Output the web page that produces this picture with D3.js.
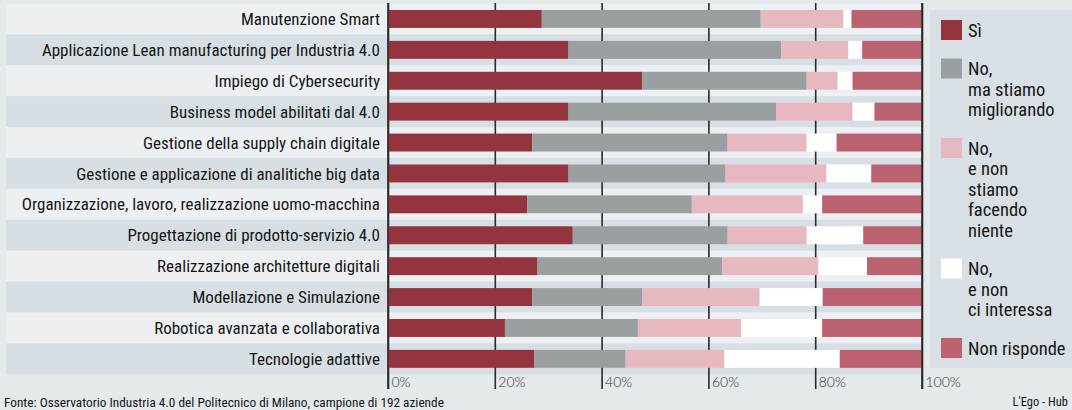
<!DOCTYPE html>
<html>
<head>
<meta charset="utf-8">
<script src="https://cdn.jsdelivr.net/npm/d3@7"></script>
<style>
  body { margin: 0; background: #e4e9ec; }
  svg { display: block; }
  .lbl { font-family: "Liberation Sans Narrow", "Roboto Condensed", Lato, sans-serif; fill: #161616; }
  .tick text { font-family: Lato, sans-serif; font-weight: 300; }
</style>
</head>
<body>
<div id="chart"></div>
<script>
// categorie (dall'alto in basso)
var categories = [
  "Manutenzione Smart",
  "Applicazione Lean manufacturing per Industria 4.0",
  "Impiego di Cybersecurity",
  "Business model abilitati dal 4.0",
  "Gestione della supply chain digitale",
  "Gestione e applicazione di analitiche big data",
  "Organizzazione, lavoro, realizzazione uomo-macchina",
  "Progettazione di prodotto-servizio 4.0",
  "Realizzazione architetture digitali",
  "Modellazione e Simulazione",
  "Robotica avanzata e collaborativa",
  "Tecnologie adattive"
];

// valori in %
var si = [28.8, 33.8, 47.6, 33.8, 27.0, 33.8, 26.1, 34.6, 28.0, 27.0, 21.9, 27.4];
var migliorando = [41.0, 39.8, 30.8, 38.9, 36.6, 29.4, 30.8, 29.0, 34.6, 20.6, 24.9, 17.1];
var nonFacendo = [15.5, 12.6, 5.8, 14.3, 14.8, 18.9, 20.8, 14.8, 18.0, 22.0, 19.3, 18.5];
var nonInteressa = [1.5, 2.6, 2.8, 4.1, 5.6, 8.4, 3.6, 10.6, 9.1, 11.8, 15.2, 21.6];
var nonRisponde = [13.2, 11.2, 13.0, 8.9, 16.0, 9.5, 18.7, 11.0, 10.3, 18.6, 18.7, 15.4];

var seriesKeys = ["si", "migliorando", "nonFacendo", "nonInteressa", "nonRisponde"];
var legendLabels = [
  ["Sì"],
  ["No,", "ma stiamo", "migliorando"],
  ["No,", "e non", "stiamo", "facendo", "niente"],
  ["No,", "e non", "ci interessa"],
  ["Non risponde"]
];
var tickValues = [0, 20, 40, 60, 80, 100];

var colors = {
  si: "#93343f",
  migliorando: "#9a9fa1",
  nonFacendo: "#e8b8c0",
  nonInteressa: "#ffffff",
  nonRisponde: "#bb6170"
};

var width = 1072, height = 410;

var svg = d3.select("#chart").append("svg")
  .attr("width", width)
  .attr("height", height);

svg.append("rect")
  .attr("width", width)
  .attr("height", height)
  .attr("fill", "#e4e9ec");

var table = categories.map(function(c, i) {
  return {
    name: c,
    si: si[i],
    migliorando: migliorando[i],
    nonFacendo: nonFacendo[i],
    nonInteressa: nonInteressa[i],
    nonRisponde: nonRisponde[i]
  };
});

var x = d3.scaleLinear().domain([0, 100]).range([388, 922]);

var y = d3.scaleBand()
  .domain(categories)
  .range([3.5, 374.3])
  .paddingInner(0.42)
  .paddingOuter(0.21);

var step = y.step();
var pad = (step - y.bandwidth()) / 2;

// righe alternate
svg.append("g")
  .selectAll("rect")
  .data(categories)
  .enter()
  .append("rect")
  .attr("x", 6)
  .attr("y", function(d) { return y(d) - pad; })
  .attr("width", x(100) - 6)
  .attr("height", step)
  .attr("fill", function(d, i) { return i % 2 ? "#d8dfe4" : "#edf0f2"; });

// griglia + asse
var axis = d3.axisBottom(x)
  .tickValues(tickValues)
  .tickFormat(function(d) { return d + "%"; })
  .tickSizeInner(-386)
  .tickSizeOuter(0);

var axisG = svg.append("g")
  .attr("transform", "translate(0,389)")
  .call(axis);

axisG.select(".domain").remove();
axisG.selectAll(".tick line")
  .attr("stroke", "#2a2a2a")
  .attr("stroke-width", 1.6);
axisG.selectAll(".tick text")
  .attr("y", -2)
  .attr("dy", "0")
  .attr("x", 3)
  .attr("text-anchor", "start")
  .attr("font-size", 14)
  .attr("fill", "#333");

// barre impilate
var stacked = d3.stack().keys(seriesKeys)(table);

svg.append("g")
  .selectAll("g")
  .data(stacked)
  .enter()
  .append("g")
  .attr("fill", function(d) { return colors[d.key]; })
  .selectAll("rect")
  .data(function(d) { return d; })
  .enter()
  .append("rect")
  .attr("x", function(d) { return x(d[0]); })
  .attr("y", function(d) { return y(d.data.name); })
  .attr("width", function(d) { return x(d[1]) - x(d[0]); })
  .attr("height", y.bandwidth());

// linee 0% e 100% sopra le barre
svg.append("g")
  .selectAll("line")
  .data([0, 100])
  .enter()
  .append("line")
  .attr("x1", function(d) { return x(d); })
  .attr("x2", function(d) { return x(d); })
  .attr("y1", 3)
  .attr("y2", 389)
  .attr("stroke", "#2a2a2a")
  .attr("stroke-width", 1.6);

// etichette categorie
svg.append("g")
  .selectAll("text")
  .data(categories)
  .enter()
  .append("text")
  .attr("class", "lbl")
  .attr("x", 380)
  .attr("y", function(d) { return y(d) + y.bandwidth() / 2; })
  .attr("dy", "0.36em")
  .attr("text-anchor", "end")
  .attr("font-size", 17)
  .text(function(d) { return d; });

// legenda
svg.append("rect")
  .attr("x", 930)
  .attr("y", 10)
  .attr("width", width - 930)
  .attr("height", 358)
  .attr("fill", "#d9e0e5");

var lineH = 20.5, itemGap = 38.5;
var firstLine = 30;
var leg = svg.append("g");
seriesKeys.forEach(function(k, i) {
  var g = leg.append("g");
  g.append("rect")
    .attr("x", 941)
    .attr("y", firstLine - 10)
    .attr("width", 21)
    .attr("height", 20)
    .attr("fill", colors[k]);
  legendLabels[i].forEach(function(t, j) {
    g.append("text")
      .attr("class", "lbl")
      .attr("x", 968)
      .attr("y", firstLine + j * lineH)
      .attr("dy", "0.36em")
      .attr("font-size", 18.5)
      .text(t);
  });
  firstLine += (legendLabels[i].length - 1) * lineH + itemGap;
});

// fonte
svg.append("text")
  .attr("class", "lbl")
  .attr("x", 4)
  .attr("y", 407)
  .attr("font-size", 13.3)
  .attr("fill", "#333")
  .text("Fonte: Osservatorio Industria 4.0 del Politecnico di Milano, campione di 192 aziende");

svg.append("text")
  .attr("class", "lbl")
  .attr("x", 1068)
  .attr("y", 406)
  .attr("text-anchor", "end")
  .attr("font-size", 12.5)
  .attr("fill", "#333")
  .text("L'Ego - Hub");
</script>
</body>
</html>
